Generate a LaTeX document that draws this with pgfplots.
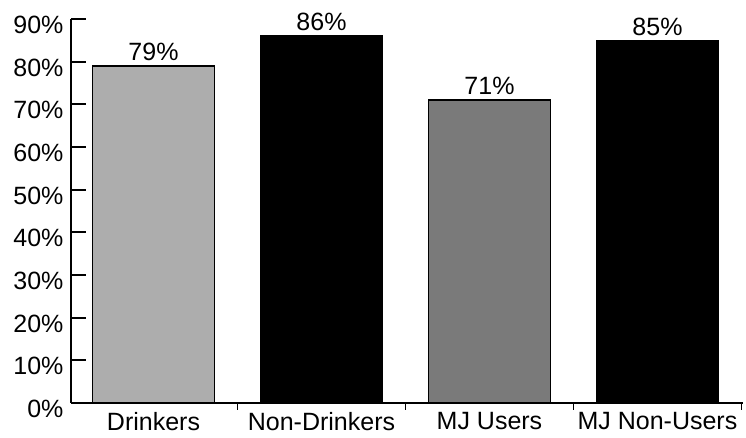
\documentclass[border=0pt]{standalone}
\usepackage{pgfplots}
\pgfplotsset{compat=1.18}
\usepackage{fontspec}
\setmainfont{Liberation Sans}

\begin{document}
\begin{tikzpicture}
\begin{axis}[
  scale only axis, width=672pt, height=384pt,
  xmin=-0.491, xmax=3.509, ymin=0, ymax=90,
  axis x line*=bottom, axis y line*=left,
  axis line style={line width=2.4pt, -},
  ytick={0,10,...,90},
  yticklabels={0\%,10\%,20\%,30\%,40\%,50\%,60\%,70\%,80\%,90\%},
  xtick={0,1,2,3},
  xticklabels={Drinkers,Non-Drinkers,MJ Users,MJ Non-Users},
  minor xtick={0.5,1.5,2.5,3.5},
  tick align=inside,
  major tick length=15pt, minor tick length=7pt,
  major x tick style={draw=none},
  minor x tick style={line width=1.5pt, black},
  y tick style={line width=2.2pt, black},
  tick label style={font=\fontsize{25}{29}\selectfont},
  yticklabel style={xshift=-4pt, yshift=-6pt},
  xticklabel style={inner sep=0pt, yshift=6pt},
  ybar, bar width=122pt, bar shift=0pt,
  nodes near coords={\pgfmathprintnumber[assume math mode=true]{\pgfplotspointmeta}\%},
  every node near coord/.style={font=\fontsize{25}{29}\selectfont, black, yshift=1pt},
  clip=false,
]
\addplot[draw=black, line width=1.4pt, fill=black!32] coordinates {(0,79)};
\addplot[draw=black, line width=1.4pt, fill=black] coordinates {(1,86)};
\addplot[draw=black, line width=1.4pt, fill=black!52] coordinates {(2,71)};
\addplot[draw=black, line width=1.4pt, fill=black] coordinates {(3,85)};
\end{axis}
\pgfresetboundingbox
\path (-71pt,-35pt) rectangle (675pt,403pt);
\end{tikzpicture}
\end{document}
